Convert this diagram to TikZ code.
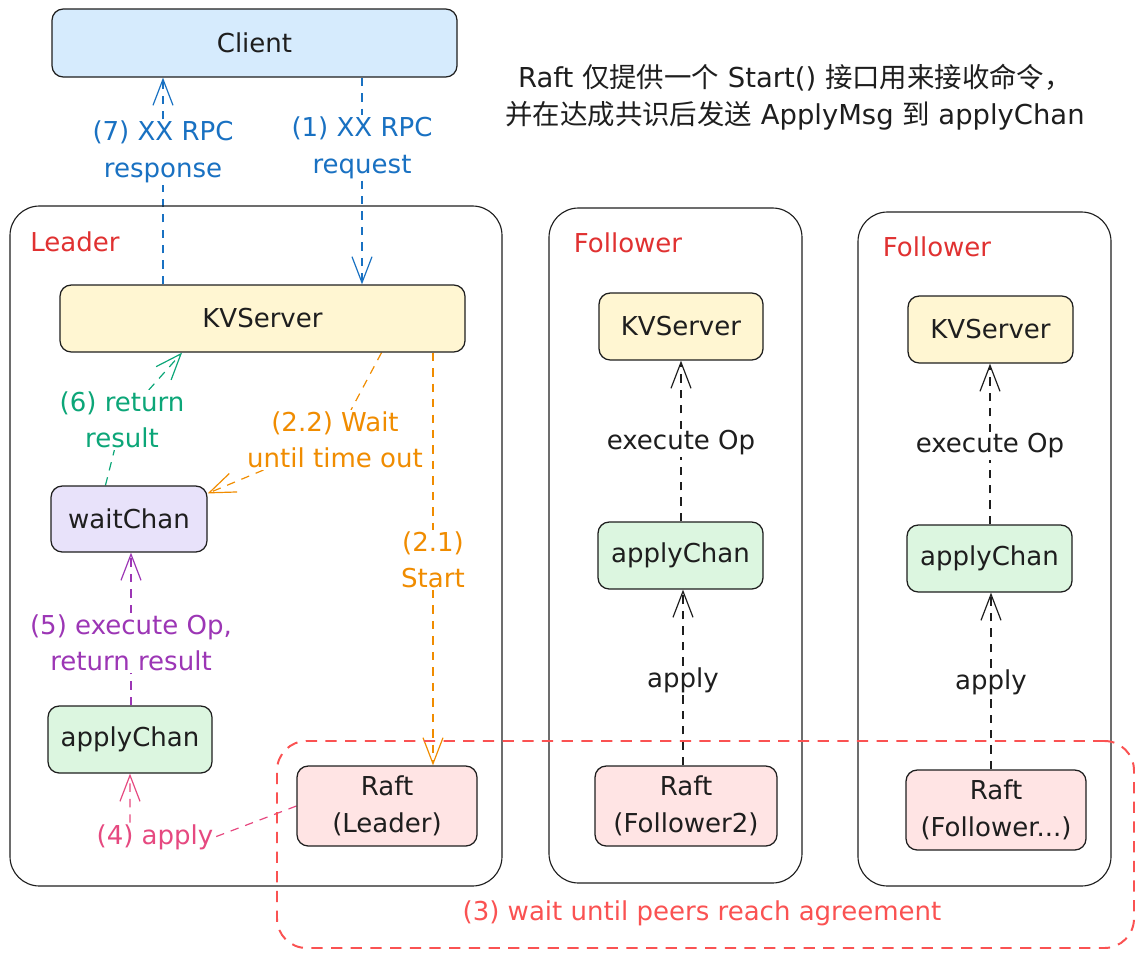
\documentclass[tikz,border=0pt]{standalone}
\usepackage{fontspec}
\setmainfont{DejaVu Sans}
\newfontfamily\cjk{Noto Sans CJK SC}
\usepackage{tikz}
\usetikzlibrary{arrows.meta,backgrounds}
\definecolor{ink}{HTML}{1E1E1E}
\definecolor{cblue}{HTML}{1971C2}
\definecolor{cred}{HTML}{E03131}
\definecolor{cregion}{HTML}{FA5252}
\definecolor{corange}{HTML}{F08C00}
\definecolor{cgreen}{HTML}{0CA678}
\definecolor{cpurple}{HTML}{9C36B5}
\definecolor{cpink}{HTML}{E64980}
\definecolor{fblue}{HTML}{D6EBFD}
\definecolor{fyellow}{HTML}{FFF6D2}
\definecolor{fpurple}{HTML}{E8E2FA}
\definecolor{fgreen}{HTML}{DCF6E0}
\definecolor{fpink}{HTML}{FFE4E4}
\newlength\px \setlength\px{0.025cm}

\begin{document}
\begin{tikzpicture}[x=1\px,y=-1\px,font=\fontsize{18.5}{26}\selectfont,text=ink,
  box/.style={rectangle,rounded corners=8pt,draw=ink,line width=0.9pt,inner sep=2pt,align=center},
  grp/.style={rectangle,rounded corners=21pt,draw=ink,line width=0.8pt},
  ttl/.style={text=cred},
  lab/.style={fill=white,inner sep=1pt,align=center},
  arr/.style={-{Straight Barb[length=6.5mm,width=5mm]},line width=0.85pt,dash pattern=on 6pt off 5pt}]
\useasboundingbox (0,0) rectangle (1144,960);
% client and note
\node[box,fill=fblue,minimum width=405\px,minimum height=68\px] (client) at (254.5,43) {Client};
\node[align=center,font=\fontsize{19.5}{26}\selectfont] (note) at (795,97) {Raft {\cjk 仅提供一个} Start() {\cjk 接口用来接收命令，}\\
  {\cjk 并在达成共识后发送} ApplyMsg {\cjk 到} applyChan};
% groups
\node[grp,minimum width=492\px,minimum height=680\px] (leader) at (256,546) {};
\node[grp,minimum width=253\px,minimum height=675\px] (fol1) at (675.5,545.5) {};
\node[grp,minimum width=253\px,minimum height=674\px] (fol2) at (984.5,549) {};
\node[ttl] (tLeader) at (75,242) {Leader};
\node[ttl] (tFol1) at (628,243) {Follower};
\node[ttl] (tFol2) at (937,247) {Follower};
% agreement region
\node[rectangle,rounded corners=21pt,draw=cregion,line width=1.4pt,dash pattern=on 8pt off 6pt,
  minimum width=857\px,minimum height=207\px] (agree) at (705.5,844.5) {};
\node[text=cregion] (lbl3) at (702,913) {(3) wait until peers reach agreement};
% leader
\node[box,fill=fyellow,minimum width=405\px,minimum height=67\px] (kvL) at (262.5,318.5) {KVServer};
\node[box,fill=fpurple,minimum width=156\px,minimum height=66\px] (waitC) at (129,519) {waitChan};
\node[box,fill=fgreen,minimum width=164\px,minimum height=67\px] (apL) at (130,739.5) {applyChan};
\node[box,fill=fpink,minimum width=180\px,minimum height=80\px] (raftL) at (387,806) {Raft\\(Leader)};
% followers
\node[box,fill=fyellow,minimum width=164\px,minimum height=67\px] (kvF1) at (681,326.5) {KVServer};
\node[box,fill=fgreen,minimum width=165\px,minimum height=67\px] (apF1) at (680.5,555.5) {applyChan};
\node[box,fill=fpink,minimum width=182\px,minimum height=80\px] (raftF1) at (686,806) {Raft\\(Follower2)};
\node[box,fill=fyellow,minimum width=165\px,minimum height=67\px] (kvF2) at (990.5,329.5) {KVServer};
\node[box,fill=fgreen,minimum width=165\px,minimum height=67\px] (apF2) at (989.5,558.5) {applyChan};
\node[box,fill=fpink,minimum width=180\px,minimum height=80\px] (raftF2) at (996,810) {Raft\\(Follower...)};
% labels
\node[lab,text=cblue] (lbl7) at (163,152) {(7) XX RPC\\response};
\node[lab,text=cblue] (lbl1) at (362,148) {(1) XX RPC\\request};
\node[lab,text=cgreen] (lbl6) at (122,420) {(6) return\\result};
\node[lab,text=corange] (lbl22) at (335,440) {(2.2) Wait\\until time out};
\node[lab,text=corange] (lbl21) at (433,560) {(2.1)\\Start};
\node[lab,text=cpurple] (lbl5) at (131,643) {(5) execute Op,\\return result};
\node[lab,text=cpink] (lbl4) at (155,837) {(4) apply};
\node[lab] (lblE1) at (681,443) {execute Op};
\node[lab] (lblA1) at (683,680) {apply};
\node[lab] (lblE2) at (990,446) {execute Op};
\node[lab] (lblA2) at (991,682) {apply};
% connectors
\begin{scope}[on background layer]
\draw[arr,cblue] (kvL.north -| lbl7) -- (lbl7) -- (client.south -| lbl7);
\draw[arr,cblue] (client.south -| lbl1) -- (lbl1) -- (kvL.north -| lbl1);
\draw[arr,cgreen] (waitC.125) -- (lbl6) -- (kvL.203);
\draw[arr,corange] (kvL.344) -- (lbl22) -- (waitC.18);
\draw[arr,corange] (kvL.south -| lbl21) -- (lbl21) -- (raftL.north -| lbl21);
\draw[arr,cpurple] (apL.north -| lbl5) -- (lbl5) -- (waitC.south -| lbl5);
\draw[arr,cpink] (raftL.west) -- (lbl4.east) (lbl4.north -| apL) -- (apL.south);
\draw[arr,ink] (apF1.north -| lblE1) -- (lblE1) -- (kvF1.south -| lblE1);
\draw[arr,ink] (raftF1.north -| lblA1) -- (lblA1) -- (apF1.south -| lblA1);
\draw[arr,ink] (apF2.north -| lblE2) -- (lblE2) -- (kvF2.south -| lblE2);
\draw[arr,ink] (raftF2.north -| lblA2) -- (lblA2) -- (apF2.south -| lblA2);
\end{scope}
\end{tikzpicture}
\end{document}
